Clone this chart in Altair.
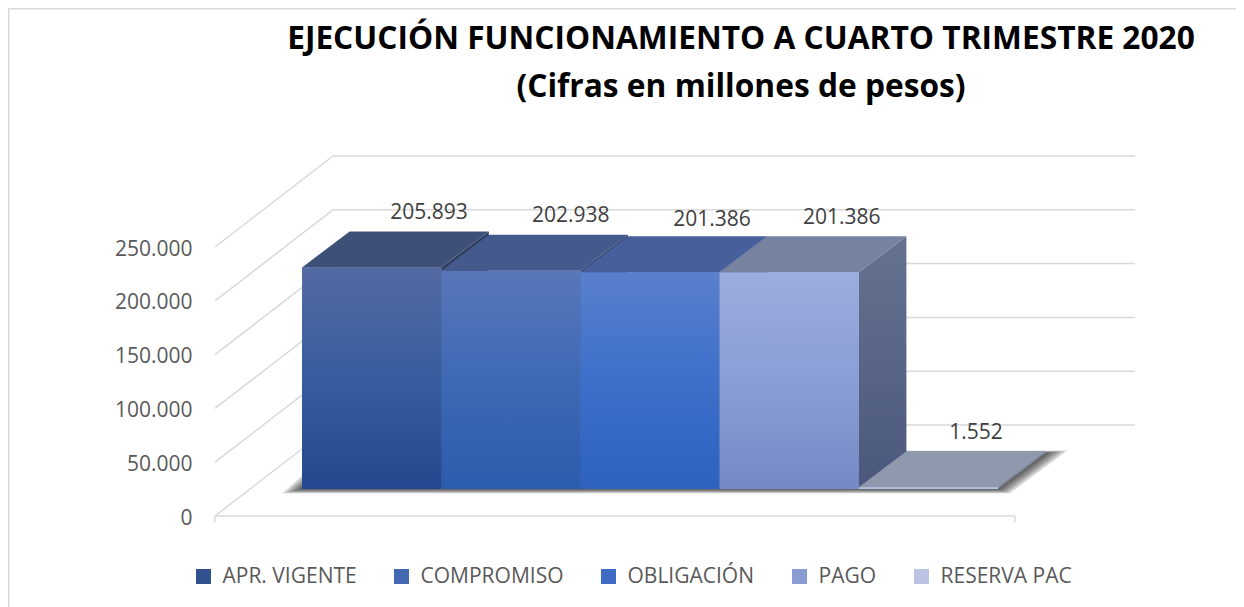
import altair as alt
import pandas as pd

# ---- data
categories = ["APR. VIGENTE", "COMPROMISO", "OBLIGACIÓN", "PAGO", "RESERVA PAC"]
values = [205893, 202938, 201386, 201386, 1552]
tick_values = [0, 50000, 100000, 150000, 200000, 250000]
title_lines = ["EJECUCIÓN FUNCIONAMIENTO A CUARTO TRIMESTRE 2020", "(Cifras en millones de pesos)"]

# ---- styling
legend_colors = ["#31518F", "#4468B2", "#3F6DC6", "#8A9DD2", "#BAC4E2"]
front_stops = [
    ["#546AA3", "#375C9F", "#23488F"],
    ["#5877BA", "#3E69B4", "#2C5CAC"],
    ["#5A80CC", "#3D6FCB", "#2E62BE"],
    ["#9CADDD", "#8A9ED6", "#7489C5"],
    ["#B4BFE4", "#B4BFE4", "#B4BFE4"],
]
top_colors = ["#3F5078", "#445A8C", "#47609C", "#76829F", "#9098AE"]
side_stops = [
    ["#2F3D60", "#2F3D60"],
    ["#33446E", "#33446E"],
    ["#36497A", "#36497A"],
    ["#667290", "#4A587D"],
    ["#7F88A0", "#7F88A0"],
]
GRID = "#D9D9D9"

W, H = 1228, 599
PX_UNIT = 139.2      # horizontal size of one category slot
PX_PER_VALUE = 269 / 250000
X_ORIGIN = 302 - 8   # left edge of first bar inside the view
Y_ZERO = 516 - 8     # value 0 on the front axis inside the view


def hx(px):
    return px / PX_UNIT


def vy(px):
    return px / PX_PER_VALUE


x_scale = alt.Scale(domain=[-X_ORIGIN / PX_UNIT, (W - X_ORIGIN) / PX_UNIT], range=[0, W], nice=False, zero=False)
y_scale = alt.Scale(domain=[-vy(H - Y_ZERO), vy(Y_ZERO)], range=[H, 0], nice=False, zero=False)

y_axis = alt.Axis(
    values=tick_values, title=None, domain=False, ticks=False, grid=False, offset=-184,
    labelPadding=0, labelOffset=2, labelFont="Open Sans", labelFontSize=21, labelColor="#595959",
    labelExpr="replace(format(datum.value, ','), ',', '.')",
)

X = alt.X("x:Q", scale=x_scale, axis=None)
Y = alt.Y("y:Q", scale=y_scale, axis=y_axis, stack=False)
X2 = alt.X2("x2:Q")
Y2 = alt.Y2("y2:Q")

BAR_DX, BAR_DY = hx(47.6), vy(36)
BASE = vy(27)
WALL_DX, WALL_DY = hx(118), vy(91)
AXIS_L, AXIS_R = hx(-87), hx(713)
WALL_L, WALL_R = hx(31), hx(833)


def grad(stops):
    n = len(stops) - 1
    return alt.LinearGradient(
        gradient="linear", x1=0, x2=0, y1=0, y2=1,
        stops=[alt.GradientStop(color=c, offset=i / n) for i, c in enumerate(stops)],
    )


layers = []


def rule(rows, **kw):
    layers.append(
        alt.Chart(pd.DataFrame(rows)).mark_rule(color=GRID, **kw).encode(x=X, y=Y, x2=X2, y2=Y2)
    )


# chart frame
rule([{"x": -X_ORIGIN / PX_UNIT + hx(0.75), "x2": -X_ORIGIN / PX_UNIT + hx(0.75), "y": vy(Y_ZERO), "y2": -vy(H - Y_ZERO)},
      {"x": -X_ORIGIN / PX_UNIT, "x2": (W - X_ORIGIN) / PX_UNIT, "y": vy(Y_ZERO - 0.75), "y2": vy(Y_ZERO - 0.75)}], strokeWidth=1.5)

# wall grid, side diagonals
rule([{"x": WALL_L, "x2": WALL_R, "y": v + WALL_DY, "y2": v + WALL_DY} for v in tick_values], strokeWidth=1.5)
rule([{"x": AXIS_L, "x2": WALL_L, "y": v, "y2": v + WALL_DY} for v in tick_values], strokeWidth=1.5)
# front axis line and end ticks
rule([{"x": AXIS_L, "x2": AXIS_R, "y": 0, "y2": 0},
      {"x": AXIS_L, "x2": AXIS_L, "y": 0, "y2": -vy(6)},
      {"x": AXIS_R, "x2": AXIS_R, "y": 0, "y2": -vy(6)}], strokeWidth=1.5)

# soft floor shadow
for e in [20, 17, 14, 11, 8, 5, 2]:
    rows = [
        {"y": BASE - vy(e * 0.22), "x": hx(-e), "x2": 5 + hx(e * 0.6)},
        {"y": BASE + BAR_DY + vy(e * 0.12), "x": BAR_DX + hx(-e), "x2": 5 + BAR_DX + hx(e * 1.1)},
    ]
    layers.append(
        alt.Chart(pd.DataFrame(rows)).mark_area(orient="horizontal", color="#000000", opacity=0.13)
        .encode(x=X, x2=X2, y=Y)
    )

# flat faces carrying the legend
front = pd.DataFrame([
    {"cat": c, "x": i, "x2": i + 1, "y": BASE, "y2": BASE + v}
    for i, (c, v) in enumerate(zip(categories, values))
])
layers.append(
    alt.Chart(front).mark_rect().encode(
        x=X, x2=X2, y=Y, y2=Y2,
        color=alt.Color(
            "cat:N",
            scale=alt.Scale(domain=categories, range=legend_colors),
            sort=categories,
            legend=alt.Legend(
                title=None, orient="none", legendX=185, legendY=558, direction="horizontal",
                columns=5, gridAlign="none", columnPadding=34, symbolType="square", symbolSize=225,
                symbolStrokeWidth=0, labelFont="Open Sans", labelFontSize=21, labelColor="#595959",
                labelOffset=8.5, padding=0, labelLimit=300,
            ),
        ),
    )
)

# blocks from left to right: side, then top, then front
for i, v in enumerate(values):
    side = pd.DataFrame([
        {"x": i + 1, "y": BASE, "y2": BASE + v},
        {"x": i + 1 + BAR_DX, "y": BASE + BAR_DY, "y2": BASE + v + BAR_DY},
    ])
    layers.append(alt.Chart(side).mark_area(color=grad(side_stops[i])).encode(x=X, y=Y, y2=Y2))
for i, v in enumerate(values):
    top = pd.DataFrame([
        {"y": BASE + v, "x": i, "x2": i + 1},
        {"y": BASE + v + BAR_DY, "x": i + BAR_DX, "x2": i + 1 + BAR_DX},
    ])
    layers.append(alt.Chart(top).mark_area(orient="horizontal", color=top_colors[i]).encode(x=X, x2=X2, y=Y))
    df = pd.DataFrame([{"x": i, "x2": i + 1, "y": BASE, "y2": BASE + v}])
    layers.append(alt.Chart(df).mark_rect(color=grad(front_stops[i])).encode(x=X, x2=X2, y=Y, y2=Y2))

# data labels
label_dx = [57.5, 60, 62, 52.5, 47.5]
label_dy = [54, 55, 52, 54, 54]
labels = pd.DataFrame([
    {"x": i + 0.5 + hx(label_dx[i]), "y": BASE + v + vy(label_dy[i]),
     "t": f"{v:,d}".replace(",", ".")}
    for i, v in enumerate(values)
])
layers.append(
    alt.Chart(labels).mark_text(font="Open Sans", fontSize=21, color="#404040", baseline="middle")
    .encode(x=X, y=Y, text="t:N")
)

chart = alt.layer(*layers).properties(
    width=W, height=H, padding=0, background="white",
    autosize=alt.AutoSizeParams(type="none"),
    title=alt.TitleParams(
        text=title_lines, anchor="middle", dx=119, dy=96, font="Open Sans", fontWeight="bold",
        fontSize=31.7, color="#000000", lineHeight=48, offset=0,
    ),
).configure_view(stroke=None)

chart.save("out.html", embed_options={"renderer": "svg", "actions": False})
